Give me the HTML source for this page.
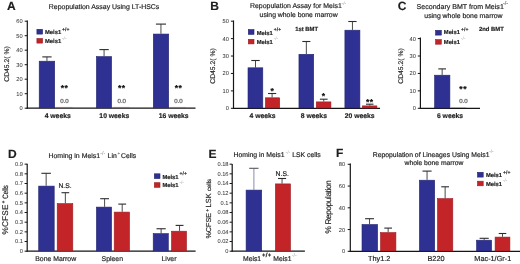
<!DOCTYPE html>
<html><head><meta charset="utf-8"><style>
html,body{margin:0;padding:0;background:#fff;width:520px;height:264px;overflow:hidden}
svg{display:block;font-family:"Liberation Sans", sans-serif;will-change:transform;text-rendering:geometricPrecision}
</style></head><body>
<svg width="520" height="264" viewBox="0 0 520 264" font-family='"Liberation Sans", sans-serif'>
<text x="7" y="9.5" font-size="12" font-weight="700" text-anchor="start" fill="#1e1e1e" stroke="#1e1e1e" stroke-width="0.18" >A</text>
<text x="48.8" y="9.3" font-size="6.95" font-weight="400" text-anchor="start" fill="#1e1e1e" stroke="#1e1e1e" stroke-width="0.18" >Repopulation Assay Using LT-HSCs</text>
<line x1="27.3" y1="20.5" x2="27.3" y2="108.8" stroke="#151515" stroke-width="1.2"/>
<line x1="24.7" y1="108.2" x2="27.3" y2="108.2" stroke="#151515" stroke-width="1"/>
<text x="22.700000000000003" y="110.15" font-size="5.7" font-weight="400" text-anchor="end" fill="#3a3a3a" stroke="#3a3a3a" stroke-width="0.05" >0</text>
<line x1="24.7" y1="93.7" x2="27.3" y2="93.7" stroke="#151515" stroke-width="1"/>
<text x="22.700000000000003" y="95.65" font-size="5.7" font-weight="400" text-anchor="end" fill="#3a3a3a" stroke="#3a3a3a" stroke-width="0.05" >10</text>
<line x1="24.7" y1="79.2" x2="27.3" y2="79.2" stroke="#151515" stroke-width="1"/>
<text x="22.700000000000003" y="81.15" font-size="5.7" font-weight="400" text-anchor="end" fill="#3a3a3a" stroke="#3a3a3a" stroke-width="0.05" >20</text>
<line x1="24.7" y1="64.7" x2="27.3" y2="64.7" stroke="#151515" stroke-width="1"/>
<text x="22.700000000000003" y="66.65" font-size="5.7" font-weight="400" text-anchor="end" fill="#3a3a3a" stroke="#3a3a3a" stroke-width="0.05" >30</text>
<line x1="24.7" y1="50.2" x2="27.3" y2="50.2" stroke="#151515" stroke-width="1"/>
<text x="22.700000000000003" y="52.150000000000006" font-size="5.7" font-weight="400" text-anchor="end" fill="#3a3a3a" stroke="#3a3a3a" stroke-width="0.05" >40</text>
<line x1="24.7" y1="35.7" x2="27.3" y2="35.7" stroke="#151515" stroke-width="1"/>
<text x="22.700000000000003" y="37.650000000000006" font-size="5.7" font-weight="400" text-anchor="end" fill="#3a3a3a" stroke="#3a3a3a" stroke-width="0.05" >50</text>
<line x1="24.7" y1="21.200000000000003" x2="27.3" y2="21.200000000000003" stroke="#151515" stroke-width="1"/>
<text x="22.700000000000003" y="23.150000000000002" font-size="5.7" font-weight="400" text-anchor="end" fill="#3a3a3a" stroke="#3a3a3a" stroke-width="0.05" >60</text>
<line x1="26.7" y1="108.2" x2="195.5" y2="108.2" stroke="#151515" stroke-width="1.2"/>
<text x="0" y="0" font-size="6.8" text-anchor="middle" dominant-baseline="central" fill="#2a2a2a" stroke="#2a2a2a" stroke-width="0.18" transform="translate(7.5,64) rotate(-90)" >CD45.2( %)</text>
<rect x="36.90" y="29.30" width="5.70" height="4.80" fill="#2e3192" stroke="#232670" stroke-width="0.6"/>
<rect x="36.90" y="38.50" width="5.70" height="4.60" fill="#c22428" stroke="#9c1c22" stroke-width="0.6"/>
<text x="45" y="34.2" font-size="5.8" font-weight="700" text-anchor="start" fill="#1e1e1e" stroke="#1e1e1e" stroke-width="0.18" >Meis1</text>
<text x="45" y="43.2" font-size="5.8" font-weight="700" text-anchor="start" fill="#1e1e1e" stroke="#1e1e1e" stroke-width="0.18" >Meis1</text>
<text x="62.1" y="30.6" font-size="5.0" font-weight="700" text-anchor="start" fill="#222" stroke="#222" stroke-width="0.1" letter-spacing="0.1">+/+</text>
<text x="62.0" y="39.6" font-size="4.8" font-weight="400" text-anchor="start" fill="#aaa" >-/-</text>
<line x1="46.95" y1="56.9" x2="46.95" y2="60.9" stroke="#4a4a4a" stroke-width="1"/>
<line x1="42.3" y1="56.9" x2="51.6" y2="56.9" stroke="#2c2c2c" stroke-width="1.1"/>
<rect x="39.20" y="61.20" width="15.50" height="46.70" fill="#2e3192" stroke="#232670" stroke-width="0.6"/>
<rect x="55.5" y="106.9" width="17.0" height="0.8" fill="#c22428" opacity="0.35"/>
<text x="64.55" y="91.39999999999999" font-size="8.6" font-weight="700" text-anchor="middle" fill="#111" stroke="#111" stroke-width="0.18" letter-spacing="0.5">**</text>
<text x="64.5" y="102.8" font-size="6.1" font-weight="400" text-anchor="middle" fill="#555" stroke="#555" stroke-width="0.2" >0.0</text>
<text x="57.7" y="118.4" font-size="6.8" font-weight="700" text-anchor="middle" fill="#1e1e1e" stroke="#1e1e1e" stroke-width="0.18" >4 weeks</text>
<line x1="104.075" y1="49.6" x2="104.075" y2="56.3" stroke="#4a4a4a" stroke-width="1"/>
<line x1="99.4" y1="49.6" x2="108.75" y2="49.6" stroke="#2c2c2c" stroke-width="1.1"/>
<rect x="96.40" y="56.60" width="15.20" height="51.30" fill="#2e3192" stroke="#232670" stroke-width="0.6"/>
<rect x="113" y="106.9" width="16.5" height="0.8" fill="#c22428" opacity="0.35"/>
<text x="121.8" y="91.39999999999999" font-size="8.6" font-weight="700" text-anchor="middle" fill="#111" stroke="#111" stroke-width="0.18" letter-spacing="0.5">**</text>
<text x="121.75" y="102.8" font-size="6.1" font-weight="400" text-anchor="middle" fill="#555" stroke="#555" stroke-width="0.2" >0.0</text>
<text x="114.3" y="118.4" font-size="6.8" font-weight="700" text-anchor="middle" fill="#1e1e1e" stroke="#1e1e1e" stroke-width="0.18" >10 weeks</text>
<line x1="160.95" y1="24.1" x2="160.95" y2="33.75" stroke="#4a4a4a" stroke-width="1"/>
<line x1="155.9" y1="24.1" x2="166" y2="24.1" stroke="#2c2c2c" stroke-width="1.1"/>
<rect x="153.30" y="34.05" width="15.40" height="73.85" fill="#2e3192" stroke="#232670" stroke-width="0.6"/>
<rect x="170" y="106.9" width="16" height="0.8" fill="#c22428" opacity="0.35"/>
<text x="178.55" y="91.39999999999999" font-size="8.6" font-weight="700" text-anchor="middle" fill="#111" stroke="#111" stroke-width="0.18" letter-spacing="0.5">**</text>
<text x="178.5" y="102.8" font-size="6.1" font-weight="400" text-anchor="middle" fill="#555" stroke="#555" stroke-width="0.2" >0.0</text>
<text x="173.7" y="118.4" font-size="6.8" font-weight="700" text-anchor="middle" fill="#1e1e1e" stroke="#1e1e1e" stroke-width="0.18" >16 weeks</text>
<text x="210.2" y="9.8" font-size="12" font-weight="700" text-anchor="start" fill="#1e1e1e" stroke="#1e1e1e" stroke-width="0.18" >B</text>
<text x="250.0" y="8.2" font-size="6.95" font-weight="400" text-anchor="start" fill="#1e1e1e" stroke="#1e1e1e" stroke-width="0.18" >Repopulation Assay for Meis1</text>
<text x="341.6" y="5.0" font-size="4.8" font-weight="400" text-anchor="start" fill="#999" >-/-</text>
<text x="298.6" y="16.7" font-size="6.85" font-weight="400" text-anchor="middle" fill="#1e1e1e" stroke="#1e1e1e" stroke-width="0.18" >using whole bone marrow</text>
<line x1="233.5" y1="20.5" x2="233.5" y2="108.89999999999999" stroke="#151515" stroke-width="1.2"/>
<line x1="230.9" y1="108.3" x2="233.5" y2="108.3" stroke="#151515" stroke-width="1"/>
<text x="228.9" y="110.25" font-size="5.7" font-weight="400" text-anchor="end" fill="#3a3a3a" stroke="#3a3a3a" stroke-width="0.05" >0</text>
<line x1="230.9" y1="90.88" x2="233.5" y2="90.88" stroke="#151515" stroke-width="1"/>
<text x="228.9" y="92.83" font-size="5.7" font-weight="400" text-anchor="end" fill="#3a3a3a" stroke="#3a3a3a" stroke-width="0.05" >10</text>
<line x1="230.9" y1="73.46" x2="233.5" y2="73.46" stroke="#151515" stroke-width="1"/>
<text x="228.9" y="75.41" font-size="5.7" font-weight="400" text-anchor="end" fill="#3a3a3a" stroke="#3a3a3a" stroke-width="0.05" >20</text>
<line x1="230.9" y1="56.03999999999999" x2="233.5" y2="56.03999999999999" stroke="#151515" stroke-width="1"/>
<text x="228.9" y="57.989999999999995" font-size="5.7" font-weight="400" text-anchor="end" fill="#3a3a3a" stroke="#3a3a3a" stroke-width="0.05" >30</text>
<line x1="230.9" y1="38.61999999999999" x2="233.5" y2="38.61999999999999" stroke="#151515" stroke-width="1"/>
<text x="228.9" y="40.56999999999999" font-size="5.7" font-weight="400" text-anchor="end" fill="#3a3a3a" stroke="#3a3a3a" stroke-width="0.05" >40</text>
<line x1="230.9" y1="21.19999999999999" x2="233.5" y2="21.19999999999999" stroke="#151515" stroke-width="1"/>
<text x="228.9" y="23.149999999999988" font-size="5.7" font-weight="400" text-anchor="end" fill="#3a3a3a" stroke="#3a3a3a" stroke-width="0.05" >50</text>
<line x1="232.9" y1="108.3" x2="380" y2="108.3" stroke="#151515" stroke-width="1.2"/>
<text x="0" y="0" font-size="6.8" text-anchor="middle" dominant-baseline="central" fill="#2a2a2a" stroke="#2a2a2a" stroke-width="0.18" transform="translate(213.2,66) rotate(-90)" >CD45.2( %)</text>
<rect x="248.30" y="29.60" width="5.70" height="4.80" fill="#2e3192" stroke="#232670" stroke-width="0.6"/>
<rect x="248.30" y="39.30" width="5.70" height="4.60" fill="#c22428" stroke="#9c1c22" stroke-width="0.6"/>
<text x="256.7" y="34.5" font-size="5.8" font-weight="700" text-anchor="start" fill="#1e1e1e" stroke="#1e1e1e" stroke-width="0.18" >Meis1</text>
<text x="256.7" y="44.0" font-size="5.8" font-weight="700" text-anchor="start" fill="#1e1e1e" stroke="#1e1e1e" stroke-width="0.18" >Meis1</text>
<text x="273.8" y="30.900000000000002" font-size="5.0" font-weight="700" text-anchor="start" fill="#222" stroke="#222" stroke-width="0.1" letter-spacing="0.1">+/+</text>
<text x="273.7" y="40.4" font-size="4.8" font-weight="400" text-anchor="start" fill="#aaa" >-/-</text>
<text x="306.6" y="30.8" font-size="5.9" font-weight="700" text-anchor="middle" fill="#1e1e1e" stroke="#1e1e1e" stroke-width="0.18" >1st BMT</text>
<line x1="255.5" y1="60.5" x2="255.5" y2="67.5" stroke="#4a4a4a" stroke-width="1"/>
<line x1="251.3" y1="60.5" x2="259.7" y2="60.5" stroke="#2c2c2c" stroke-width="1.1"/>
<rect x="248.00" y="67.80" width="14.80" height="40.20" fill="#2e3192" stroke="#232670" stroke-width="0.6"/>
<line x1="272.1" y1="93.5" x2="272.1" y2="97.5" stroke="#4a4a4a" stroke-width="1"/>
<line x1="268" y1="93.5" x2="276.2" y2="93.5" stroke="#2c2c2c" stroke-width="1.1"/>
<rect x="265.40" y="97.80" width="14.30" height="10.20" fill="#c22428" stroke="#9c1c22" stroke-width="0.6"/>
<text x="272.35" y="93.89999999999999" font-size="8.6" font-weight="700" text-anchor="middle" fill="#111" stroke="#111" stroke-width="0.18" letter-spacing="0.5">*</text>
<text x="262.6" y="118.4" font-size="6.8" font-weight="700" text-anchor="middle" fill="#1e1e1e" stroke="#1e1e1e" stroke-width="0.18" >4 weeks</text>
<line x1="306.35" y1="41.5" x2="306.35" y2="54" stroke="#4a4a4a" stroke-width="1"/>
<line x1="302.3" y1="41.5" x2="310.4" y2="41.5" stroke="#2c2c2c" stroke-width="1.1"/>
<rect x="298.95" y="54.30" width="14.75" height="53.70" fill="#2e3192" stroke="#232670" stroke-width="0.6"/>
<line x1="323.75" y1="99.2" x2="323.75" y2="101.6" stroke="#4a4a4a" stroke-width="1"/>
<line x1="319.9" y1="99.2" x2="327.6" y2="99.2" stroke="#2c2c2c" stroke-width="1.1"/>
<rect x="316.30" y="101.90" width="14.60" height="6.10" fill="#c22428" stroke="#9c1c22" stroke-width="0.6"/>
<text x="323.75" y="98.69999999999999" font-size="8.6" font-weight="700" text-anchor="middle" fill="#111" stroke="#111" stroke-width="0.18" letter-spacing="0.5">*</text>
<text x="313.9" y="118.4" font-size="6.8" font-weight="700" text-anchor="middle" fill="#1e1e1e" stroke="#1e1e1e" stroke-width="0.18" >8 weeks</text>
<line x1="352.45000000000005" y1="21.5" x2="352.45000000000005" y2="29.9" stroke="#4a4a4a" stroke-width="1"/>
<line x1="348.3" y1="21.5" x2="356.6" y2="21.5" stroke="#2c2c2c" stroke-width="1.1"/>
<rect x="344.90" y="30.20" width="15.00" height="77.80" fill="#2e3192" stroke="#232670" stroke-width="0.6"/>
<line x1="369.75" y1="104.2" x2="369.75" y2="105.6" stroke="#4a4a4a" stroke-width="1"/>
<line x1="366" y1="104.2" x2="373.5" y2="104.2" stroke="#2c2c2c" stroke-width="1.1"/>
<rect x="362.30" y="105.90" width="14.60" height="2.10" fill="#c22428" stroke="#9c1c22" stroke-width="0.6"/>
<text x="369.8" y="104.8" font-size="8.6" font-weight="700" text-anchor="middle" fill="#111" stroke="#111" stroke-width="0.18" letter-spacing="0.5">**</text>
<text x="359.7" y="118.4" font-size="6.8" font-weight="700" text-anchor="middle" fill="#1e1e1e" stroke="#1e1e1e" stroke-width="0.18" >20 weeks</text>
<text x="397.8" y="9.7" font-size="12" font-weight="700" text-anchor="start" fill="#1e1e1e" stroke="#1e1e1e" stroke-width="0.18" >C</text>
<text x="416.6" y="8.9" font-size="7.05" font-weight="400" text-anchor="start" fill="#1e1e1e" stroke="#1e1e1e" stroke-width="0.18" >Secondary BMT from Meis1</text>
<text x="503.0" y="5.4" font-size="5.4" font-weight="400" text-anchor="start" fill="#666" stroke="#666" stroke-width="0.1" >-/-</text>
<text x="463.4" y="17.9" font-size="6.87" font-weight="400" text-anchor="middle" fill="#1e1e1e" stroke="#1e1e1e" stroke-width="0.18" >using whole bone marrow</text>
<line x1="420.4" y1="37.400000000000006" x2="420.4" y2="108.89999999999999" stroke="#151515" stroke-width="1.2"/>
<line x1="417.79999999999995" y1="108.3" x2="420.4" y2="108.3" stroke="#151515" stroke-width="1"/>
<text x="415.79999999999995" y="110.25" font-size="5.7" font-weight="400" text-anchor="end" fill="#3a3a3a" stroke="#3a3a3a" stroke-width="0.05" >0</text>
<line x1="417.79999999999995" y1="90.87" x2="420.4" y2="90.87" stroke="#151515" stroke-width="1"/>
<text x="415.79999999999995" y="92.82000000000001" font-size="5.7" font-weight="400" text-anchor="end" fill="#3a3a3a" stroke="#3a3a3a" stroke-width="0.05" >10</text>
<line x1="417.79999999999995" y1="73.44" x2="420.4" y2="73.44" stroke="#151515" stroke-width="1"/>
<text x="415.79999999999995" y="75.39" font-size="5.7" font-weight="400" text-anchor="end" fill="#3a3a3a" stroke="#3a3a3a" stroke-width="0.05" >20</text>
<line x1="417.79999999999995" y1="56.01" x2="420.4" y2="56.01" stroke="#151515" stroke-width="1"/>
<text x="415.79999999999995" y="57.96" font-size="5.7" font-weight="400" text-anchor="end" fill="#3a3a3a" stroke="#3a3a3a" stroke-width="0.05" >30</text>
<line x1="417.79999999999995" y1="38.58" x2="420.4" y2="38.58" stroke="#151515" stroke-width="1"/>
<text x="415.79999999999995" y="40.53" font-size="5.7" font-weight="400" text-anchor="end" fill="#3a3a3a" stroke="#3a3a3a" stroke-width="0.05" >40</text>
<line x1="419.79999999999995" y1="108.3" x2="480" y2="108.3" stroke="#151515" stroke-width="1.2"/>
<text x="0" y="0" font-size="6.8" text-anchor="middle" dominant-baseline="central" fill="#2a2a2a" stroke="#2a2a2a" stroke-width="0.18" transform="translate(401,66) rotate(-90)" >CD45.2( %)</text>
<rect x="435.60" y="30.30" width="5.70" height="4.80" fill="#2e3192" stroke="#232670" stroke-width="0.6"/>
<rect x="435.60" y="39.60" width="5.70" height="4.60" fill="#c22428" stroke="#9c1c22" stroke-width="0.6"/>
<text x="443.8" y="34.400000000000006" font-size="5.8" font-weight="700" text-anchor="start" fill="#1e1e1e" stroke="#1e1e1e" stroke-width="0.18" >Meis1</text>
<text x="443.8" y="43.5" font-size="5.8" font-weight="700" text-anchor="start" fill="#1e1e1e" stroke="#1e1e1e" stroke-width="0.18" >Meis1</text>
<text x="460.90000000000003" y="30.8" font-size="5.0" font-weight="700" text-anchor="start" fill="#222" stroke="#222" stroke-width="0.1" letter-spacing="0.1">+/+</text>
<text x="460.8" y="39.9" font-size="4.8" font-weight="400" text-anchor="start" fill="#aaa" >-/-</text>
<text x="491.4" y="30.6" font-size="5.9" font-weight="700" text-anchor="middle" fill="#1e1e1e" stroke="#1e1e1e" stroke-width="0.18" >2nd BMT</text>
<line x1="442.15" y1="68.9" x2="442.15" y2="74.9" stroke="#4a4a4a" stroke-width="1"/>
<line x1="438.3" y1="68.9" x2="446" y2="68.9" stroke="#2c2c2c" stroke-width="1.1"/>
<rect x="434.60" y="75.20" width="15.30" height="32.80" fill="#2e3192" stroke="#232670" stroke-width="0.6"/>
<rect x="451" y="107.0" width="15" height="0.8" fill="#c22428" opacity="0.35"/>
<text x="463.15" y="92.19999999999999" font-size="8.6" font-weight="700" text-anchor="middle" fill="#111" stroke="#111" stroke-width="0.18" letter-spacing="0.5">**</text>
<text x="463.4" y="102.8" font-size="6.1" font-weight="400" text-anchor="middle" fill="#555" stroke="#555" stroke-width="0.2" >0.0</text>
<text x="450" y="118.4" font-size="6.8" font-weight="700" text-anchor="middle" fill="#1e1e1e" stroke="#1e1e1e" stroke-width="0.18" >6 weeks</text>
<text x="8.1" y="157.7" font-size="12" font-weight="700" text-anchor="start" fill="#1e1e1e" stroke="#1e1e1e" stroke-width="0.18" >D</text>
<text x="48.5" y="157.8" font-size="6.95" font-weight="400" text-anchor="start" fill="#1e1e1e" stroke="#1e1e1e" stroke-width="0.18" >Homing in Meis1</text>
<text x="100.2" y="155.0" font-size="5.4" font-weight="400" text-anchor="start" fill="#888" >-/-</text>
<text x="107.6" y="157.8" font-size="6.85" font-weight="400" text-anchor="start" fill="#1e1e1e" stroke="#1e1e1e" stroke-width="0.18" >Lin</text>
<text x="117.4" y="155.0" font-size="4.6" font-weight="400" text-anchor="start" fill="#555" >+</text>
<text x="121.0" y="157.8" font-size="6.85" font-weight="400" text-anchor="start" fill="#1e1e1e" stroke="#1e1e1e" stroke-width="0.18" >Cells</text>
<line x1="27.2" y1="163.7" x2="27.2" y2="251.79999999999998" stroke="#151515" stroke-width="1.2"/>
<line x1="24.599999999999998" y1="251.2" x2="27.2" y2="251.2" stroke="#151515" stroke-width="1"/>
<text x="22.9" y="253.14999999999998" font-size="5.7" font-weight="400" text-anchor="end" fill="#3a3a3a" stroke="#3a3a3a" stroke-width="0.05" >0</text>
<line x1="24.599999999999998" y1="241.53" x2="27.2" y2="241.53" stroke="#151515" stroke-width="1"/>
<text x="22.9" y="243.48" font-size="5.7" font-weight="400" text-anchor="end" fill="#3a3a3a" stroke="#3a3a3a" stroke-width="0.05" >0.1</text>
<line x1="24.599999999999998" y1="231.85999999999999" x2="27.2" y2="231.85999999999999" stroke="#151515" stroke-width="1"/>
<text x="22.9" y="233.80999999999997" font-size="5.7" font-weight="400" text-anchor="end" fill="#3a3a3a" stroke="#3a3a3a" stroke-width="0.05" >0.2</text>
<line x1="24.599999999999998" y1="222.19" x2="27.2" y2="222.19" stroke="#151515" stroke-width="1"/>
<text x="22.9" y="224.14" font-size="5.7" font-weight="400" text-anchor="end" fill="#3a3a3a" stroke="#3a3a3a" stroke-width="0.05" >0.3</text>
<line x1="24.599999999999998" y1="212.51999999999998" x2="27.2" y2="212.51999999999998" stroke="#151515" stroke-width="1"/>
<text x="22.9" y="214.46999999999997" font-size="5.7" font-weight="400" text-anchor="end" fill="#3a3a3a" stroke="#3a3a3a" stroke-width="0.05" >0.4</text>
<line x1="24.599999999999998" y1="202.85" x2="27.2" y2="202.85" stroke="#151515" stroke-width="1"/>
<text x="22.9" y="204.79999999999998" font-size="5.7" font-weight="400" text-anchor="end" fill="#3a3a3a" stroke="#3a3a3a" stroke-width="0.05" >0.5</text>
<line x1="24.599999999999998" y1="193.18" x2="27.2" y2="193.18" stroke="#151515" stroke-width="1"/>
<text x="22.9" y="195.13" font-size="5.7" font-weight="400" text-anchor="end" fill="#3a3a3a" stroke="#3a3a3a" stroke-width="0.05" >0.6</text>
<line x1="24.599999999999998" y1="183.51" x2="27.2" y2="183.51" stroke="#151515" stroke-width="1"/>
<text x="22.9" y="185.45999999999998" font-size="5.7" font-weight="400" text-anchor="end" fill="#3a3a3a" stroke="#3a3a3a" stroke-width="0.05" >0.7</text>
<line x1="24.599999999999998" y1="173.83999999999997" x2="27.2" y2="173.83999999999997" stroke="#151515" stroke-width="1"/>
<text x="22.9" y="175.78999999999996" font-size="5.7" font-weight="400" text-anchor="end" fill="#3a3a3a" stroke="#3a3a3a" stroke-width="0.05" >0.8</text>
<line x1="24.599999999999998" y1="164.17" x2="27.2" y2="164.17" stroke="#151515" stroke-width="1"/>
<text x="22.9" y="166.11999999999998" font-size="5.7" font-weight="400" text-anchor="end" fill="#3a3a3a" stroke="#3a3a3a" stroke-width="0.05" >0.9</text>
<line x1="26.599999999999998" y1="251.2" x2="195.6" y2="251.2" stroke="#151515" stroke-width="1.2"/>
<g transform="translate(7.8,0) rotate(-90)"><text x="-234.6" y="0" font-size="8.2" fill="#2a2a2a" stroke="#2a2a2a" stroke-width="0.18" textLength="30.0">%CFSE</text><text x="-203.4" y="0" font-size="5.2" fill="#2a2a2a" stroke="#2a2a2a" stroke-width="0.18" dy="-2.8">+</text><text x="-198.7" y="0" font-size="7.8" fill="#2a2a2a" stroke="#2a2a2a" stroke-width="0.18" textLength="13.6" lengthAdjust="spacingAndGlyphs">Cells</text></g>
<rect x="154.30" y="173.80" width="5.70" height="4.80" fill="#2e3192" stroke="#232670" stroke-width="0.6"/>
<rect x="154.30" y="182.70" width="5.70" height="4.60" fill="#c22428" stroke="#9c1c22" stroke-width="0.6"/>
<text x="162.4" y="178.7" font-size="5.8" font-weight="700" text-anchor="start" fill="#1e1e1e" stroke="#1e1e1e" stroke-width="0.18" >Meis1</text>
<text x="162.4" y="187.4" font-size="5.8" font-weight="700" text-anchor="start" fill="#1e1e1e" stroke="#1e1e1e" stroke-width="0.18" >Meis1</text>
<text x="179.5" y="175.1" font-size="5.0" font-weight="700" text-anchor="start" fill="#222" stroke="#222" stroke-width="0.1" letter-spacing="0.1">+/+</text>
<text x="179.4" y="183.8" font-size="4.8" font-weight="400" text-anchor="start" fill="#aaa" >-/-</text>
<text x="65" y="187.7" font-size="6.8" font-weight="400" text-anchor="middle" fill="#222" stroke="#222" stroke-width="0.18" >N.S.</text>
<line x1="46.15" y1="173.3" x2="46.15" y2="185.8" stroke="#4a4a4a" stroke-width="1"/>
<line x1="41.4" y1="173.3" x2="50.9" y2="173.3" stroke="#2c2c2c" stroke-width="1.1"/>
<rect x="38.70" y="186.10" width="15.50" height="64.80" fill="#2e3192" stroke="#232670" stroke-width="0.6"/>
<line x1="65.35" y1="192.7" x2="65.35" y2="203.3" stroke="#4a4a4a" stroke-width="1"/>
<line x1="61.5" y1="192.7" x2="69.2" y2="192.7" stroke="#2c2c2c" stroke-width="1.1"/>
<rect x="57.20" y="203.60" width="15.60" height="47.30" fill="#c22428" stroke="#9c1c22" stroke-width="0.6"/>
<text x="55.7" y="260.5" font-size="6.9" font-weight="400" text-anchor="middle" fill="#1e1e1e" stroke="#1e1e1e" stroke-width="0.18" >Bone Marrow</text>
<line x1="104.6" y1="198.7" x2="104.6" y2="206.8" stroke="#4a4a4a" stroke-width="1"/>
<line x1="100.2" y1="198.7" x2="109" y2="198.7" stroke="#2c2c2c" stroke-width="1.1"/>
<rect x="96.40" y="207.10" width="15.20" height="43.80" fill="#2e3192" stroke="#232670" stroke-width="0.6"/>
<line x1="122.19999999999999" y1="204.1" x2="122.19999999999999" y2="211.8" stroke="#4a4a4a" stroke-width="1"/>
<line x1="118.3" y1="204.1" x2="126.1" y2="204.1" stroke="#2c2c2c" stroke-width="1.1"/>
<rect x="114.20" y="212.10" width="15.30" height="38.80" fill="#c22428" stroke="#9c1c22" stroke-width="0.6"/>
<text x="112.3" y="260.5" font-size="6.9" font-weight="400" text-anchor="middle" fill="#1e1e1e" stroke="#1e1e1e" stroke-width="0.18" >Spleen</text>
<line x1="161.1" y1="228.75" x2="161.1" y2="233.3" stroke="#4a4a4a" stroke-width="1"/>
<line x1="156.5" y1="228.75" x2="165.7" y2="228.75" stroke="#2c2c2c" stroke-width="1.1"/>
<rect x="153.20" y="233.60" width="15.10" height="17.30" fill="#2e3192" stroke="#232670" stroke-width="0.6"/>
<line x1="179.55" y1="225.4" x2="179.55" y2="230.9" stroke="#4a4a4a" stroke-width="1"/>
<line x1="175.6" y1="225.4" x2="183.5" y2="225.4" stroke="#2c2c2c" stroke-width="1.1"/>
<rect x="171.50" y="231.20" width="15.00" height="19.70" fill="#c22428" stroke="#9c1c22" stroke-width="0.6"/>
<text x="169" y="260.5" font-size="6.9" font-weight="400" text-anchor="middle" fill="#1e1e1e" stroke="#1e1e1e" stroke-width="0.18" >Liver</text>
<text x="208.5" y="157.8" font-size="12" font-weight="700" text-anchor="start" fill="#1e1e1e" stroke="#1e1e1e" stroke-width="0.18" >E</text>
<text x="233.6" y="157.3" font-size="6.85" font-weight="400" text-anchor="start" fill="#1e1e1e" stroke="#1e1e1e" stroke-width="0.18" >Homing in Meis1</text>
<text x="285.6" y="153.6" font-size="4.8" font-weight="400" text-anchor="start" fill="#aaa" >-/-</text>
<text x="292.2" y="157.3" font-size="6.85" font-weight="400" text-anchor="start" fill="#1e1e1e" stroke="#1e1e1e" stroke-width="0.18" >LSK cells</text>
<line x1="232.2" y1="163.89999999999998" x2="232.2" y2="251.79999999999998" stroke="#151515" stroke-width="1.2"/>
<line x1="229.6" y1="251.2" x2="232.2" y2="251.2" stroke="#151515" stroke-width="1"/>
<text x="228.5" y="253.14999999999998" font-size="5.7" font-weight="400" text-anchor="end" fill="#3a3a3a" stroke="#3a3a3a" stroke-width="0.05" >0</text>
<line x1="229.6" y1="241.53" x2="232.2" y2="241.53" stroke="#151515" stroke-width="1"/>
<text x="228.5" y="243.48" font-size="5.7" font-weight="400" text-anchor="end" fill="#3a3a3a" stroke="#3a3a3a" stroke-width="0.05" >0.02</text>
<line x1="229.6" y1="231.85999999999999" x2="232.2" y2="231.85999999999999" stroke="#151515" stroke-width="1"/>
<text x="228.5" y="233.80999999999997" font-size="5.7" font-weight="400" text-anchor="end" fill="#3a3a3a" stroke="#3a3a3a" stroke-width="0.05" >0.04</text>
<line x1="229.6" y1="222.19" x2="232.2" y2="222.19" stroke="#151515" stroke-width="1"/>
<text x="228.5" y="224.14" font-size="5.7" font-weight="400" text-anchor="end" fill="#3a3a3a" stroke="#3a3a3a" stroke-width="0.05" >0.06</text>
<line x1="229.6" y1="212.51999999999998" x2="232.2" y2="212.51999999999998" stroke="#151515" stroke-width="1"/>
<text x="228.5" y="214.46999999999997" font-size="5.7" font-weight="400" text-anchor="end" fill="#3a3a3a" stroke="#3a3a3a" stroke-width="0.05" >0.08</text>
<line x1="229.6" y1="202.85" x2="232.2" y2="202.85" stroke="#151515" stroke-width="1"/>
<text x="228.5" y="204.79999999999998" font-size="5.7" font-weight="400" text-anchor="end" fill="#3a3a3a" stroke="#3a3a3a" stroke-width="0.05" >0.1</text>
<line x1="229.6" y1="193.18" x2="232.2" y2="193.18" stroke="#151515" stroke-width="1"/>
<text x="228.5" y="195.13" font-size="5.7" font-weight="400" text-anchor="end" fill="#3a3a3a" stroke="#3a3a3a" stroke-width="0.05" >0.12</text>
<line x1="229.6" y1="183.51" x2="232.2" y2="183.51" stroke="#151515" stroke-width="1"/>
<text x="228.5" y="185.45999999999998" font-size="5.7" font-weight="400" text-anchor="end" fill="#3a3a3a" stroke="#3a3a3a" stroke-width="0.05" >0.14</text>
<line x1="229.6" y1="173.83999999999997" x2="232.2" y2="173.83999999999997" stroke="#151515" stroke-width="1"/>
<text x="228.5" y="175.78999999999996" font-size="5.7" font-weight="400" text-anchor="end" fill="#3a3a3a" stroke="#3a3a3a" stroke-width="0.05" >0.16</text>
<line x1="229.6" y1="164.17" x2="232.2" y2="164.17" stroke="#151515" stroke-width="1"/>
<text x="228.5" y="166.11999999999998" font-size="5.7" font-weight="400" text-anchor="end" fill="#3a3a3a" stroke="#3a3a3a" stroke-width="0.05" >0.18</text>
<line x1="231.6" y1="251.2" x2="304.9" y2="251.2" stroke="#151515" stroke-width="1.2"/>
<g transform="translate(211.2,0) rotate(-90)"><text x="-238.6" y="0" font-size="7.2" fill="#2a2a2a" stroke="#2a2a2a" stroke-width="0.18" >%CFSE</text><text x="-211.8" y="0" font-size="5.0" fill="#2a2a2a" stroke="#2a2a2a" stroke-width="0.18" dy="-2.6">+</text><text x="-207.4" y="0" font-size="7.4" fill="#2a2a2a" stroke="#2a2a2a" stroke-width="0.18" >LSK</text><text x="-191.1" y="0" font-size="6.1" fill="#2a2a2a" stroke="#2a2a2a" stroke-width="0.18" >cells</text></g>
<line x1="253.9" y1="168.3" x2="253.9" y2="189.8" stroke="#8a8ab0" stroke-width="1"/>
<line x1="249.2" y1="168.3" x2="258.5" y2="168.3" stroke="#555" stroke-width="1.1"/>
<rect x="246.10" y="190.10" width="15.60" height="60.80" fill="#2e3192" stroke="#232670" stroke-width="0.6"/>
<line x1="282.05" y1="178.5" x2="282.05" y2="183.6" stroke="#4a4a4a" stroke-width="1"/>
<line x1="278" y1="178.5" x2="286.1" y2="178.5" stroke="#2c2c2c" stroke-width="1.1"/>
<rect x="275.40" y="183.90" width="15.10" height="67.00" fill="#c22428" stroke="#9c1c22" stroke-width="0.6"/>
<text x="282.2" y="176.0" font-size="6.8" font-weight="400" text-anchor="middle" fill="#222" stroke="#222" stroke-width="0.18" >N.S.</text>
<text x="243.0" y="260.8" font-size="6.8" font-weight="400" text-anchor="start" fill="#1e1e1e" stroke="#1e1e1e" stroke-width="0.18" >Meis1</text>
<text x="262.0" y="257.3" font-size="6.0" font-weight="400" text-anchor="start" fill="#222" stroke="#222" stroke-width="0.3" letter-spacing="0.3">+/+</text>
<text x="273.3" y="260.8" font-size="6.8" font-weight="400" text-anchor="start" fill="#1e1e1e" stroke="#1e1e1e" stroke-width="0.18" >Meis1</text>
<text x="291.8" y="256.9" font-size="5.4" font-weight="400" text-anchor="start" fill="#aaa" >-/-</text>
<text x="336.1" y="156.8" font-size="12" font-weight="700" text-anchor="start" fill="#1e1e1e" stroke="#1e1e1e" stroke-width="0.18" >F</text>
<text x="372.8" y="156.7" font-size="6.82" font-weight="400" text-anchor="start" fill="#1e1e1e" stroke="#1e1e1e" stroke-width="0.18" >Repopulation of Lineages Using Meis1</text>
<text x="489.2" y="153.0" font-size="4.8" font-weight="400" text-anchor="start" fill="#999" >-/-</text>
<text x="434" y="164.9" font-size="6.74" font-weight="400" text-anchor="middle" fill="#1e1e1e" stroke="#1e1e1e" stroke-width="0.18" >whole bone marrow</text>
<line x1="350.3" y1="163.5" x2="350.3" y2="251.9" stroke="#151515" stroke-width="1.2"/>
<line x1="347.7" y1="251.3" x2="350.3" y2="251.3" stroke="#151515" stroke-width="1"/>
<text x="345.2" y="253.25" font-size="5.7" font-weight="400" text-anchor="end" fill="#3a3a3a" stroke="#3a3a3a" stroke-width="0.05" >0</text>
<line x1="347.7" y1="229.55" x2="350.3" y2="229.55" stroke="#151515" stroke-width="1"/>
<text x="345.2" y="231.5" font-size="5.7" font-weight="400" text-anchor="end" fill="#3a3a3a" stroke="#3a3a3a" stroke-width="0.05" >20</text>
<line x1="347.7" y1="207.8" x2="350.3" y2="207.8" stroke="#151515" stroke-width="1"/>
<text x="345.2" y="209.75" font-size="5.7" font-weight="400" text-anchor="end" fill="#3a3a3a" stroke="#3a3a3a" stroke-width="0.05" >40</text>
<line x1="347.7" y1="186.05" x2="350.3" y2="186.05" stroke="#151515" stroke-width="1"/>
<text x="345.2" y="188.0" font-size="5.7" font-weight="400" text-anchor="end" fill="#3a3a3a" stroke="#3a3a3a" stroke-width="0.05" >60</text>
<line x1="347.7" y1="164.3" x2="350.3" y2="164.3" stroke="#151515" stroke-width="1"/>
<text x="345.2" y="166.25" font-size="5.7" font-weight="400" text-anchor="end" fill="#3a3a3a" stroke="#3a3a3a" stroke-width="0.05" >80</text>
<line x1="349.7" y1="251.3" x2="520" y2="251.3" stroke="#151515" stroke-width="1.2"/>
<text x="0" y="0" font-size="8.2" text-anchor="middle" dominant-baseline="central" fill="#2a2a2a" stroke="#2a2a2a" stroke-width="0.18" transform="translate(328.6,207.0) rotate(-90)" letter-spacing="-0.36">% Repopulation</text>
<rect x="477.50" y="172.30" width="5.70" height="4.80" fill="#2e3192" stroke="#232670" stroke-width="0.6"/>
<rect x="477.50" y="181.20" width="5.70" height="4.60" fill="#c22428" stroke="#9c1c22" stroke-width="0.6"/>
<text x="485.9" y="177.2" font-size="5.8" font-weight="700" text-anchor="start" fill="#1e1e1e" stroke="#1e1e1e" stroke-width="0.18" >Meis1</text>
<text x="485.9" y="185.9" font-size="5.8" font-weight="700" text-anchor="start" fill="#1e1e1e" stroke="#1e1e1e" stroke-width="0.18" >Meis1</text>
<text x="503.0" y="173.6" font-size="5.0" font-weight="700" text-anchor="start" fill="#222" stroke="#222" stroke-width="0.1" letter-spacing="0.1">+/+</text>
<text x="502.9" y="182.3" font-size="4.8" font-weight="400" text-anchor="start" fill="#aaa" >-/-</text>
<line x1="369.55" y1="218.7" x2="369.55" y2="224.2" stroke="#4a4a4a" stroke-width="1"/>
<line x1="365.1" y1="218.7" x2="374" y2="218.7" stroke="#2c2c2c" stroke-width="1.1"/>
<rect x="362.00" y="224.50" width="15.60" height="26.50" fill="#2e3192" stroke="#232670" stroke-width="0.6"/>
<line x1="388.15" y1="228.1" x2="388.15" y2="232.3" stroke="#4a4a4a" stroke-width="1"/>
<line x1="384.3" y1="228.1" x2="392" y2="228.1" stroke="#2c2c2c" stroke-width="1.1"/>
<rect x="380.50" y="232.60" width="15.40" height="18.40" fill="#c22428" stroke="#9c1c22" stroke-width="0.6"/>
<text x="379.2" y="261.2" font-size="7.3" font-weight="400" text-anchor="middle" fill="#1e1e1e" stroke="#1e1e1e" stroke-width="0.18" >Thy1.2</text>
<line x1="427.05" y1="171.1" x2="427.05" y2="179.9" stroke="#4a4a4a" stroke-width="1"/>
<line x1="422.5" y1="171.1" x2="431.6" y2="171.1" stroke="#2c2c2c" stroke-width="1.1"/>
<rect x="419.40" y="180.20" width="15.30" height="70.80" fill="#2e3192" stroke="#232670" stroke-width="0.6"/>
<line x1="445.125" y1="186.8" x2="445.125" y2="198.3" stroke="#4a4a4a" stroke-width="1"/>
<line x1="441.25" y1="186.8" x2="449" y2="186.8" stroke="#2c2c2c" stroke-width="1.1"/>
<rect x="437.50" y="198.60" width="15.30" height="52.40" fill="#c22428" stroke="#9c1c22" stroke-width="0.6"/>
<text x="436" y="261.2" font-size="7.3" font-weight="400" text-anchor="middle" fill="#1e1e1e" stroke="#1e1e1e" stroke-width="0.18" >B220</text>
<line x1="484.175" y1="238.3" x2="484.175" y2="239.9" stroke="#4a4a4a" stroke-width="1"/>
<line x1="479.6" y1="238.3" x2="488.75" y2="238.3" stroke="#2c2c2c" stroke-width="1.1"/>
<rect x="476.55" y="240.20" width="15.05" height="10.80" fill="#2e3192" stroke="#232670" stroke-width="0.6"/>
<line x1="502.5" y1="233.5" x2="502.5" y2="236.8" stroke="#4a4a4a" stroke-width="1"/>
<line x1="498.7" y1="233.5" x2="506.3" y2="233.5" stroke="#2c2c2c" stroke-width="1.1"/>
<rect x="495.10" y="237.10" width="14.80" height="13.90" fill="#c22428" stroke="#9c1c22" stroke-width="0.6"/>
<text x="492.8" y="261.2" font-size="7.3" font-weight="400" text-anchor="middle" fill="#1e1e1e" stroke="#1e1e1e" stroke-width="0.18" >Mac-1/Gr-1</text>
</svg>
</body></html>
